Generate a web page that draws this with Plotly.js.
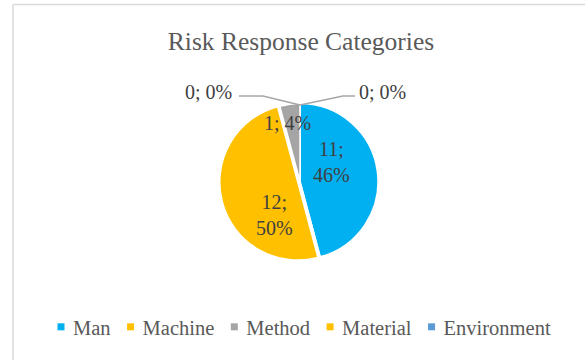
<!DOCTYPE html>
<html>
<head>
<meta charset="utf-8">
<script src="https://cdn.plot.ly/plotly-3.0.1.min.js"></script>
<style>
  html, body { margin: 0; padding: 0; background: #ffffff; }
  #chart { width: 585px; height: 360px; }
</style>
</head>
<body>
<div id="chart"></div>
<script>
// Risk response counts per category
const categories = ['Man', 'Machine', 'Method', 'Material', 'Environment'];
const counts = [11, 0, 1, 12, 0];
const sliceColors = ['#00B0F0', '#FFC000', '#A5A5A5', '#FFC000', '#5B9BD5'];
const chartTitle = 'Risk Response Categories';

const W = 585, H = 360;
const textColor = '#595959';
const fontFamily = '"Liberation Serif", "Times New Roman", serif';

// pixel -> paper helpers (margins are zero, so paper == full page)
const px = x => x / W;
const py = y => 1 - y / H;

// pie geometry
const cx = 300, cy = 181.5, radius = 78, pullMaterial = 0.03;
const half = radius * (1 + pullMaterial);

const total = counts.reduce((a, b) => a + b, 0);
const pctText = v => Math.round(v / total * 100) + '%';

// data label placement per slice: [x, y, line break?]
const labelSpots = [
  [331, 162, true],   // Man
  [382.5, 92, false], // Machine (zero slice, uses leader line)
  [287, 123, false],  // Method
  [274, 215, true],   // Material
  [208.5, 92, false]  // Environment (zero slice, uses leader line)
];

const annotations = counts.map((v, i) => {
  const [x, y, brk] = labelSpots[i];
  return {
    x: px(x), y: py(y), xref: 'paper', yref: 'paper',
    xanchor: 'center', yanchor: 'middle',
    text: v + ';' + (brk ? '<br>' : ' ') + pctText(v),
    showarrow: false,
    font: { family: fontFamily, size: 20, color: '#404040' }
  };
});

// leader lines for the two empty slices, meeting at the top of the pie
const topY = cy - radius + 1.5;
const leaderPath = (pts) => 'M ' + pts.map(p => px(p[0]) + ',' + py(p[1])).join(' L ');
const shapes = [
  { type: 'path', xref: 'paper', yref: 'paper', path: leaderPath([[239, 96], [263, 96], [cx, topY]]),
    line: { color: '#A6A6A6', width: 1.5 } },
  { type: 'path', xref: 'paper', yref: 'paper', path: leaderPath([[cx, topY], [343, 96], [355, 96]]),
    line: { color: '#A6A6A6', width: 1.5 } },
  // chart area frame
  { type: 'line', xref: 'paper', yref: 'paper', x0: px(13), x1: 1.01, y0: py(4.5), y1: py(4.5),
    line: { color: '#D9D9D9', width: 1.5 }, layer: 'below' },
  { type: 'line', xref: 'paper', yref: 'paper', x0: px(13), x1: px(13), y0: -0.01, y1: py(4.5),
    line: { color: '#D9D9D9', width: 1.5 }, layer: 'below' }
];

const trace = {
  type: 'pie',
  labels: categories,
  values: counts,
  sort: false,
  direction: 'counterclockwise',
  rotation: 0,
  pull: categories.map(c => c === 'Material' ? pullMaterial : 0),
  marker: { colors: sliceColors, line: { color: '#ffffff', width: 1.5 } },
  textinfo: 'none',
  hoverinfo: 'label+value+percent',
  domain: {
    x: [px(cx - half), px(cx + half)],
    y: [py(cy + half), py(cy - half)]
  },
  showlegend: true
};

const layout = {
  width: W, height: H,
  margin: { l: 0, r: 0, t: 0, b: 0 },
  paper_bgcolor: '#ffffff',
  font: { family: fontFamily, color: textColor },
  title: {
    text: chartTitle,
    x: px(301), xanchor: 'center',
    y: py(41), yref: 'container', yanchor: 'middle',
    font: { family: fontFamily, size: 25.5, color: textColor }
  },
  legend: {
    orientation: 'h',
    x: px(303), xanchor: 'center',
    y: py(327), yanchor: 'middle',
    bgcolor: 'rgba(0,0,0,0)',
    font: { family: fontFamily, size: 20.5, color: textColor },
    traceorder: 'normal'
  },
  annotations: annotations,
  shapes: shapes
};

// compact legend: small square keys, tight key-to-text and item spacing
function compactLegend(gd) {
  const items = Array.from(gd.querySelectorAll('.legend .traces'));
  if (!items.length) return;
  const keyHalf = 3.5, keyToText = 12, textToNextKey = 20, firstKeyX = 61;
  const parseT = t => {
    const m = /translate\(\s*([-\d.e]+)[ ,]+([-\d.e]+)/.exec(t || '');
    return m ? [parseFloat(m[1]), parseFloat(m[2])] : [0, 0];
  };
  const [x0] = parseT(items[0].getAttribute('transform'));
  const offset = items[0].getCTM().e - x0;
  let originX = (firstKeyX - 20) - offset;
  items.forEach(item => {
    const [, ty] = parseT(item.getAttribute('transform'));
    item.setAttribute('transform', 'translate(' + originX + ',' + ty + ')');
    item.querySelectorAll('.legendpoints path').forEach(p => {
      p.setAttribute('d', 'M' + keyHalf + ',' + keyHalf + 'H-' + keyHalf + 'V-' + keyHalf + 'H' + keyHalf + 'Z');
      p.style.strokeWidth = '0px';
    });
    const txt = item.querySelector('text.legendtext');
    const tw = txt.getComputedTextLength();
    txt.setAttribute('x', 20 + keyToText);
    originX += keyToText + tw + textToNextKey;
  });
}

const gd = document.getElementById('chart');
Plotly.newPlot(gd, [trace], layout, { displayModeBar: false, staticPlot: true })
  .then(() => compactLegend(gd));
</script>
</body>
</html>
